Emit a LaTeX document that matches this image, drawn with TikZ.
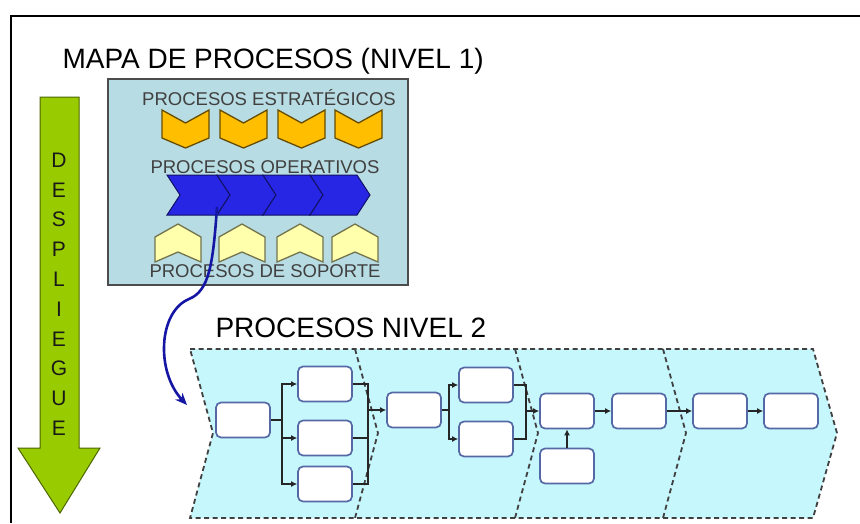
\documentclass[tikz,border=0pt]{standalone}
\usepackage{fontspec}
\setmainfont{Liberation Sans}
\usetikzlibrary{arrows.meta}

\definecolor{fondonivel}{RGB}{184,220,227}
\definecolor{naranja}{RGB}{255,190,0}
\definecolor{azulop}{RGB}{38,38,228}
\definecolor{amarillo}{RGB}{255,255,172}
\definecolor{cian}{RGB}{198,247,252}
\definecolor{verde}{RGB}{153,204,0}
\definecolor{bordecaja}{RGB}{85,105,165}
\definecolor{azulcurva}{RGB}{22,22,165}

\begin{document}
\begin{tikzpicture}[x=1pt,y=-1pt,
    caja/.style={draw=bordecaja, fill=white, rounded corners=5pt, minimum width=54pt, minimum height=35pt, line width=1.7pt},
    flujo/.style={line width=1.8pt, draw=black!85},
    flecha/.style={flujo, -{Latex[length=6pt,width=6pt]}},
    titulo/.style={font=\fontsize{28}{30}\selectfont, anchor=base west},
    rotulo/.style={font=\fontsize{18.5}{20}\selectfont, text=black!75, anchor=base},
    letra/.style={font=\fontsize{21}{22}\selectfont, text=black!90}]
\useasboundingbox (0,0) rectangle (860,523);

% marco
\draw[line width=2.2pt] (860,16) -- (11,16) -- (11,523);

% flecha de despliegue
\fill[verde, draw=verde!50!black, line width=1pt] (40,97) -- (79,97) -- (79,448) -- (100,448) -- (60,513) -- (18,448) -- (40,448) -- cycle;
\foreach \l [count=\i] in {D,E,S,P,L,I,E,G,U,E}
    \node[letra] (d\i) at (59,{160+(\i-1)*29.8}) {\l};

% nivel 1
\node[titulo] (titulo1) at (59,68) {MAPA DE PROCESOS (NIVEL 1)};
\fill[fondonivel, draw=black!70, line width=1.2pt] (108,79) rectangle (408,285);

\node[rotulo] (estrategicos) at (269,105) {PROCESOS ESTRATÉGICOS};
\foreach \x in {162,220,278,335}
    \draw[fill=naranja, draw=black!60!naranja, line width=1.3pt]
        (\x,110) -- (\x+23.5,123) -- (\x+47,110) -- (\x+47,138) -- (\x+23.5,148) -- (\x,138) -- cycle;

\node[rotulo] (operativos) at (265,173) {PROCESOS OPERATIVOS};
\foreach \x/\y in {167/217,217/263,263/310,310/357}
    \draw[fill=azulop, draw=azulop!45!black, line width=1pt]
        (\x,175) -- (\y,175) -- (\y+13,195) -- (\y,215) -- (\x,215) -- (\x+13,195) -- cycle;

\foreach \x in {155,219,277,332}
    \draw[fill=amarillo, draw=black!55!amarillo, line width=1.3pt]
        (\x,237) -- (\x+23,224) -- (\x+46,237) -- (\x+46,262) -- (\x+23,252) -- (\x,262) -- cycle;
\node[rotulo] (soporte) at (265,277) {PROCESOS DE SOPORTE};

% nivel 2
\node[titulo] (titulo2) at (212,337) {PROCESOS NIVEL 2};
\draw[fill=cian, dash pattern=on 5pt off 3.5pt, line width=1.8pt, draw=black!75]
    (190,349) -- (813,349) -- (837,433) -- (813,518) -- (190,518) -- (213,433) -- cycle;
\foreach \x in {355,515,663}
    \draw[dash pattern=on 5pt off 3.5pt, line width=1.8pt, draw=black!75] (\x,349) -- (\x+23,433) -- (\x,518);

\node[caja] (b1) at (243,420) {};
\node[caja] (b2a) at (325,384) {};
\node[caja] (b2b) at (325,438) {};
\node[caja] (b2c) at (325,484) {};
\node[caja] (b3) at (414,410) {};
\node[caja] (b4a) at (486,385) {};
\node[caja] (b4b) at (486,439) {};
\node[caja] (b5) at (567,411) {};
\node[caja] (b6) at (567,466) {};
\node[caja] (b7) at (639,411) {};
\node[caja] (b8) at (720,411) {};
\node[caja] (b9) at (791,411) {};

\coordinate (j1) at (282,420);
\coordinate (j2) at (368,410);
\coordinate (j3) at (449,410);
\coordinate (j4) at (526,411);

\draw[flujo] (b1.east) -- (j1);
\foreach \n in {b2a,b2b,b2c}
    \draw[flecha] (j1) |- (\n.west);
\foreach \n in {b2a,b2b,b2c}
    \draw[flujo] (\n.east) -| (j2);
\draw[flecha] (j2) -- (b3.west);
\draw[flujo] (b3.east) -- (j3);
\foreach \n in {b4a,b4b}
    \draw[flecha] (j3) |- (\n.west);
\foreach \n in {b4a,b4b}
    \draw[flujo] (\n.east) -| (j4);
\draw[flecha] (j4) -- (b5.west);
\draw[flecha] (b6.north) -- (b5.south);
\draw[flecha] (b5) -- (b7);
\draw[flecha] (b7) -- (b8);
\draw[flecha] (b8) -- (b9);

% despliegue hacia nivel 2
\coordinate (origen) at (217,207);
\coordinate (destino) at (187,405);
\draw[line width=2.6pt, azulcurva, -{Stealth[length=12pt,width=10pt]}]
    (origen) .. controls (213,265) and (209,291) .. (189,299)
    .. controls (158,312) and (156,372) .. (destino);
\end{tikzpicture}
\end{document}
